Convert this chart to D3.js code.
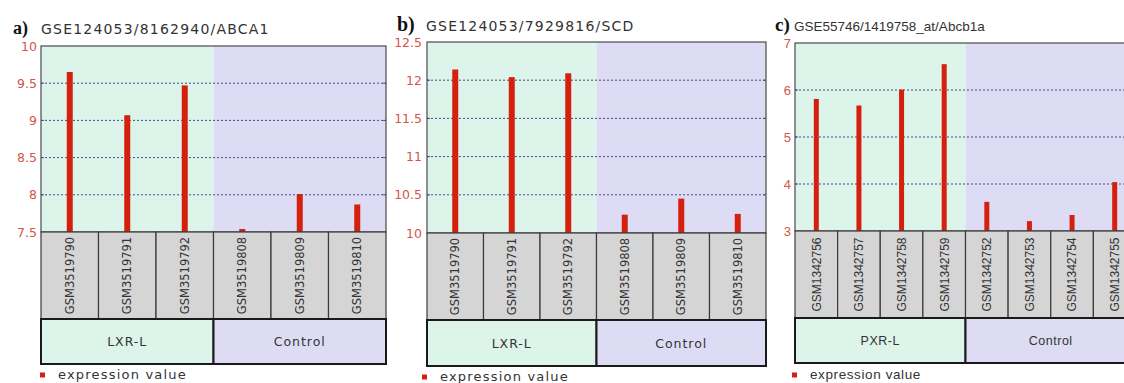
<!DOCTYPE html>
<html>
<head>
<meta charset="utf-8">
<script src="https://cdn.jsdelivr.net/npm/d3@7"></script>
<style>
  html, body { margin: 0; padding: 0; background: #ffffff; }
  svg { display: block; }
</style>
</head>
<body>
<svg id="chart" width="1124" height="383"></svg>
<script>
// ---- Panel a: GSE124053 / ABCA1 ----
const titleA = "GSE124053/8162940/ABCA1";
const samplesA = ["GSM3519790", "GSM3519791", "GSM3519792", "GSM3519808", "GSM3519809", "GSM3519810"];
const valuesA = [9.65, 9.07, 9.47, 7.54, 8.01, 7.87];
const groupsA = ["LXR-L", "Control"];
const groupCountsA = [3, 3];
const ticksA = [7.5, 8, 8.5, 9, 9.5, 10];

// ---- Panel b: GSE124053 / SCD ----
const titleB = "GSE124053/7929816/SCD";
const samplesB = ["GSM3519790", "GSM3519791", "GSM3519792", "GSM3519808", "GSM3519809", "GSM3519810"];
const valuesB = [12.14, 12.04, 12.09, 10.24, 10.45, 10.25];
const groupsB = ["LXR-L", "Control"];
const groupCountsB = [3, 3];
const ticksB = [10, 10.5, 11, 11.5, 12, 12.5];

// ---- Panel c: GSE55746 / Abcb1a ----
const titleC = "GSE55746/1419758_at/Abcb1a";
const samplesC = ["GSM1342756", "GSM1342757", "GSM1342758", "GSM1342759", "GSM1342752", "GSM1342753", "GSM1342754", "GSM1342755"];
const valuesC = [5.81, 5.67, 6.01, 6.55, 3.62, 3.21, 3.34, 4.04];
const groupsC = ["PXR-L", "Control"];
const groupCountsC = [4, 4];
const ticksC = [3, 4, 5, 6, 7];

const legendLabel = "expression value";

// Colours
const groupFills = ["#dcf4ea", "#dedcf5"];
const cellFill = "#d5d5d5";
const barColor = "#d4200c";
const tickColor = "#d2564a";
const gridColor = "#4a4a86";
const textColor = "#333333";

// Layout of each panel (pixel geometry kept apart from the data)
const panels = [
  {
    letter: "a)", title: titleA, samples: samplesA, values: valuesA, groups: groupsA, counts: groupCountsA, ticks: ticksA,
    left: 41, right: 386, top: 46, bottom: 232, sampleBottom: 319, groupBottom: 364,
    letterX: 13, titleX: 41, titleY: 34, letterSize: 18, tickX: 37,
    legendX: 40, legendY: 379, barW: 6,
    font: "'DejaVu Sans', sans-serif", titleSize: 14, titleSpacing: 1.2,
    tickSize: 12.5, cellSize: 11.5, groupSize: 12.5, groupSpacing: 1, legendSize: 13, legendSpacing: 1.2
  },
  {
    letter: "b)", title: titleB, samples: samplesB, values: valuesB, groups: groupsB, counts: groupCountsB, ticks: ticksB,
    left: 427, right: 766, top: 42, bottom: 233, sampleBottom: 320, groupBottom: 366,
    letterX: 397, titleX: 426, titleY: 30.5, letterSize: 20, tickX: 422,
    legendX: 422, legendY: 381, barW: 6,
    font: "'DejaVu Sans', sans-serif", titleSize: 14, titleSpacing: 1.2,
    tickSize: 12.5, cellSize: 11.5, groupSize: 12.5, groupSpacing: 1, legendSize: 13, legendSpacing: 1.2
  },
  {
    letter: "c)", title: titleC, samples: samplesC, values: valuesC, groups: groupsC, counts: groupCountsC, ticks: ticksC,
    left: 795, right: 1136, top: 43, bottom: 231, sampleBottom: 318, groupBottom: 363,
    letterX: 775, titleX: 794, titleY: 31, letterSize: 19, tickX: 791,
    legendX: 792, legendY: 379, barW: 5,
    font: "'Liberation Sans', Arial, sans-serif", titleSize: 13.5, titleSpacing: 0,
    tickSize: 13, cellSize: 12, groupSize: 12.5, groupSpacing: 0.5, legendSize: 13.5, legendSpacing: 0.6
  }
];

const svg = d3.select("#chart");

panels.forEach(p => {
  const g = svg.append("g");

  const x = d3.scaleBand().domain(p.samples).range([p.left, p.right]);
  const y = d3.scaleLinear().domain(d3.extent(p.ticks)).range([p.bottom, p.top]);

  // group spans in sample index space
  let start = 0;
  const spans = p.groups.map((name, i) => {
    const s = { name, i, from: p.samples[start], to: p.samples[start + p.counts[i] - 1] };
    start += p.counts[i];
    return s;
  });
  const spanX0 = s => x(s.from);
  const spanX1 = s => x(s.to) + x.bandwidth();

  // plot background per group
  g.selectAll("rect.bg").data(spans).join("rect")
    .attr("x", spanX0).attr("y", p.top)
    .attr("width", s => spanX1(s) - spanX0(s))
    .attr("height", p.bottom - p.top)
    .attr("fill", s => groupFills[s.i]);

  // dotted grid lines at interior ticks
  const inner = p.ticks.slice(1, -1);
  g.selectAll("line.grid").data(inner).join("line")
    .attr("x1", p.left).attr("x2", p.right)
    .attr("y1", d => y(d)).attr("y2", d => y(d))
    .attr("stroke", gridColor).attr("stroke-width", 1)
    .attr("stroke-dasharray", "2,2");
  // short solid tick marks on both sides
  g.selectAll("line.tl").data(inner).join("line")
    .attr("x1", p.left).attr("x2", p.left + 3)
    .attr("y1", d => y(d)).attr("y2", d => y(d))
    .attr("stroke", gridColor).attr("stroke-width", 1);
  g.selectAll("line.tr").data(inner).join("line")
    .attr("x1", p.right - 3).attr("x2", p.right)
    .attr("y1", d => y(d)).attr("y2", d => y(d))
    .attr("stroke", gridColor).attr("stroke-width", 1);

  // y tick labels
  g.selectAll("text.tick").data(p.ticks).join("text")
    .attr("x", p.tickX).attr("y", d => y(d))
    .attr("dy", "0.36em")
    .attr("text-anchor", "end")
    .attr("font-family", p.font).attr("font-size", p.tickSize)
    .attr("fill", tickColor)
    .text(d => d3.format("~g")(d));

  // bars
  g.selectAll("rect.bar").data(p.samples).join("rect")
    .attr("x", (s) => x(s) + x.bandwidth() / 2 - p.barW / 2)
    .attr("y", (s, i) => y(p.values[i]))
    .attr("width", p.barW)
    .attr("height", (s, i) => y.range()[0] - y(p.values[i]))
    .attr("fill", barColor);

  // plot frame
  g.append("rect")
    .attr("x", p.left).attr("y", p.top)
    .attr("width", p.right - p.left).attr("height", p.bottom - p.top)
    .attr("fill", "none").attr("stroke", "#4a4a4a").attr("stroke-width", 1.2);

  // sample label cells
  g.selectAll("rect.cell").data(p.samples).join("rect")
    .attr("x", s => x(s)).attr("y", p.bottom)
    .attr("width", x.bandwidth()).attr("height", p.sampleBottom - p.bottom)
    .attr("fill", cellFill).attr("stroke", "#3a3a3a").attr("stroke-width", 1.2);

  g.selectAll("text.cell").data(p.samples).join("text")
    .attr("transform", s => `translate(${x(s) + x.bandwidth() / 2},${(p.bottom + p.sampleBottom) / 2}) rotate(-90)`)
    .attr("text-anchor", "middle").attr("dy", "0.36em")
    .attr("font-family", p.font).attr("font-size", p.cellSize)
    .attr("fill", textColor)
    .text(s => s);

  // group band
  g.selectAll("rect.grp").data(spans).join("rect")
    .attr("x", spanX0).attr("y", p.sampleBottom)
    .attr("width", s => spanX1(s) - spanX0(s))
    .attr("height", p.groupBottom - p.sampleBottom)
    .attr("fill", s => groupFills[s.i])
    .attr("stroke", "#1a1a1a").attr("stroke-width", 2);

  g.selectAll("text.grp").data(spans).join("text")
    .attr("x", s => (spanX0(s) + spanX1(s)) / 2)
    .attr("y", (p.sampleBottom + p.groupBottom) / 2)
    .attr("dy", "0.36em")
    .attr("text-anchor", "middle")
    .attr("font-family", p.font).attr("font-size", p.groupSize)
    .attr("letter-spacing", p.groupSpacing)
    .attr("fill", textColor)
    .text(s => s.name);

  // title
  g.append("text")
    .attr("x", p.letterX).attr("y", p.titleY)
    .attr("font-family", "'Liberation Serif', 'Times New Roman', serif")
    .attr("font-weight", "bold").attr("font-size", p.letterSize)
    .attr("fill", "#111")
    .text(p.letter);
  g.append("text")
    .attr("x", p.titleX).attr("y", p.titleY)
    .attr("font-family", p.font).attr("font-size", p.titleSize)
    .attr("letter-spacing", p.titleSpacing)
    .attr("fill", "#333")
    .text(p.title);

  // legend
  g.append("rect")
    .attr("x", p.legendX).attr("y", p.legendY - 6.5)
    .attr("width", 5).attr("height", 5)
    .attr("fill", barColor);
  g.append("text")
    .attr("x", p.legendX + 18).attr("y", p.legendY)
    .attr("font-family", p.font).attr("font-size", p.legendSize)
    .attr("letter-spacing", p.legendSpacing)
    .attr("fill", textColor)
    .text(legendLabel);
});
</script>
</body>
</html>
